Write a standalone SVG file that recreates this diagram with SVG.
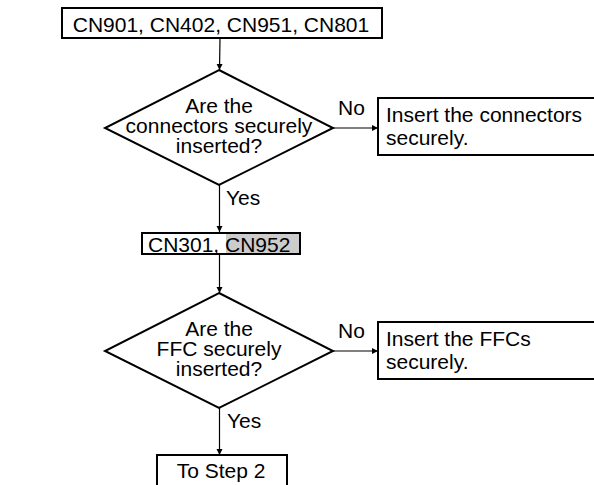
<svg xmlns="http://www.w3.org/2000/svg" width="594" height="485" viewBox="0 0 594 485">
<style>
text{font-family:"Liberation Sans",Arial,sans-serif;font-size:21px;fill:#000}
.c{text-anchor:middle}
.box{fill:#fff;stroke:#000;stroke-width:2}
.dia{fill:#fff;stroke:#000;stroke-width:2}
.ln{stroke:#000;stroke-width:1.2;fill:none}
</style>
<defs>
<marker id="ah" viewBox="0 0 10 10" refX="10" refY="5" markerWidth="6" markerHeight="8" markerUnits="userSpaceOnUse" orient="auto">
<path d="M0,0 L10,5 L0,10 Z" fill="#000"/>
</marker>
</defs>
<rect width="594" height="485" fill="#fff"/>
<g id="connectors">
<line class="ln" x1="220" y1="38" x2="219.5" y2="70" marker-end="url(#ah)"/>
<line class="ln" x1="333" y1="128" x2="378" y2="128" marker-end="url(#ah)"/>
<line class="ln" x1="219.5" y1="185" x2="219.5" y2="232" marker-end="url(#ah)"/>
<line class="ln" x1="219.5" y1="254" x2="219.5" y2="293" marker-end="url(#ah)"/>
<line class="ln" x1="333" y1="351" x2="378" y2="351" marker-end="url(#ah)"/>
<line class="ln" x1="219.5" y1="408" x2="219.5" y2="455" marker-end="url(#ah)"/>
<text x="338" y="115">No</text>
<text x="226" y="205">Yes</text>
<text x="338" y="338">No</text>
<text x="227" y="428">Yes</text>
</g>
<g id="n1">
<rect class="box" x="62" y="8" width="320" height="30"/>
<text class="c" x="221" y="32">CN901, CN402, CN951, CN801</text>
</g>
<g id="d1">
<polygon class="dia" points="219,70 333,128 219,185 105,128"/>
<text class="c" x="219" y="113">Are the</text>
<text class="c" x="219" y="133">connectors securely</text>
<text class="c" x="219" y="153">inserted?</text>
</g>
<g id="n2">
<rect class="box" x="378" y="98" width="230" height="57"/>
<text x="386" y="122">Insert the connectors</text>
<text x="386" y="145">securely.</text>
</g>
<g id="n3">
<rect class="box" x="142" y="233" width="158" height="21"/>
<rect x="226" y="234" width="73" height="19" fill="#cccccc"/>
<text x="148" y="252">CN301, CN952</text>
</g>
<g id="d2">
<polygon class="dia" points="219,293 333,351 219,408 105,351"/>
<text class="c" x="219" y="336">Are the</text>
<text class="c" x="219" y="356">FFC securely</text>
<text class="c" x="219" y="376">inserted?</text>
</g>
<g id="n4">
<rect class="box" x="378" y="322" width="230" height="57"/>
<text x="386" y="346">Insert the FFCs</text>
<text x="386" y="369">securely.</text>
</g>
<g id="n5">
<rect class="box" x="157" y="455" width="130" height="40"/>
<text class="c" x="221" y="478">To Step 2</text>
</g>
</svg>
